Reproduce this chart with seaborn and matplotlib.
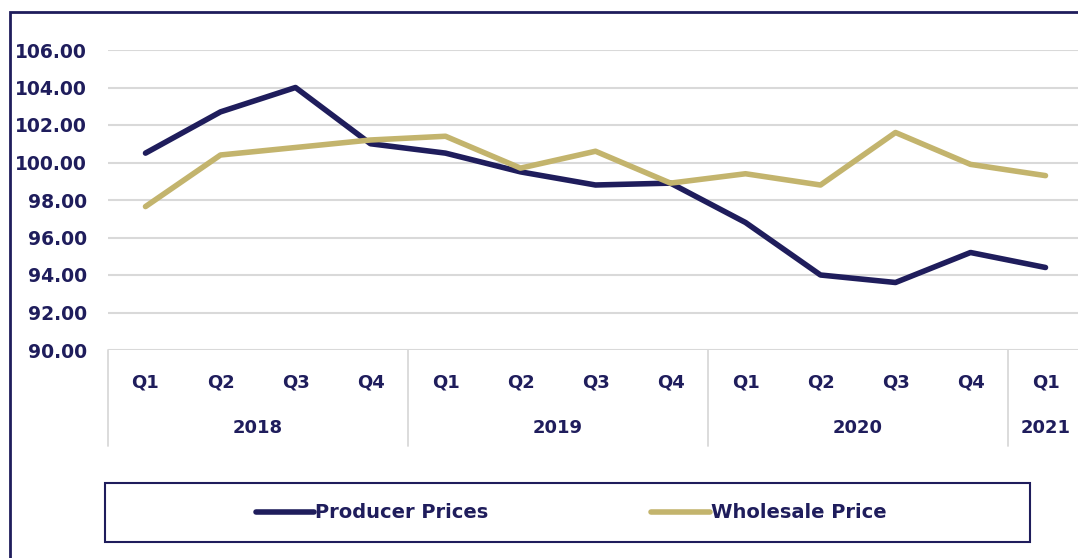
import matplotlib
matplotlib.use("Agg")
import matplotlib.pyplot as plt
from matplotlib.patches import Rectangle
import numpy as np
import pandas as pd
import seaborn as sns

# Data
quarters = ["Q1", "Q2", "Q3", "Q4", "Q1", "Q2", "Q3", "Q4", "Q1", "Q2", "Q3", "Q4", "Q1"]
years = ["2018", "2019", "2020", "2021"]
year_spans = [4, 4, 4, 1]
producer = [100.5, 102.7, 104.0, 101.0, 100.5, 99.5, 98.8, 98.9, 96.8, 94.0, 93.6, 95.2, 94.4]
wholesale = [97.65, 100.4, 100.8, 101.2, 101.4, 99.7, 100.6, 98.9, 99.4, 98.8, 101.6, 99.9, 99.3]

navy = "#1f1d5c"
gold = "#c3b46d"

sns.set_theme(style="white")
plt.rcParams["font.family"] = ["DejaVu Sans"]

idx = np.arange(len(quarters))
df = pd.DataFrame({
    "pos": np.concatenate([idx, idx]),
    "value": producer + wholesale,
    "series": ["Producer Prices"] * len(idx) + ["Wholesale Price"] * len(idx),
})

fig = plt.figure(figsize=(10.78, 5.58), dpi=100)
W, H = 1078, 558
ax = fig.add_axes([108 / W, 1 - 350 / H, 975 / W, 300 / H])

sns.lineplot(data=df, x="pos", y="value", hue="series", sort=False,
             palette={"Producer Prices": navy, "Wholesale Price": gold},
             linewidth=4, ax=ax, legend=True)

ax.set_xlim(-0.5, len(idx) - 0.5)
ax.set_ylim(90, 106)
ax.set_yticks(np.arange(90, 107, 2))
ax.set_yticklabels([f"{v:.2f}" for v in np.arange(90, 107, 2)],
                   fontsize=13.5, fontweight="bold", color=navy)
ax.tick_params(axis="y", length=0, pad=15)
ax.yaxis.grid(True, color="#d9d9d9", linewidth=1.5)
ax.set_axisbelow(True)
for s in ax.spines.values():
    s.set_visible(False)

ax.set_xticks(idx)
ax.set_xticklabels(quarters, fontsize=13, fontweight="bold", color=navy)
ax.tick_params(axis="x", length=0, pad=17)
ax.set_xlabel("")
ax.set_ylabel("")

# year group labels and dividers
start = 0
for yr, span in zip(years, year_spans):
    centre = start + (span - 1) / 2
    ax.text(centre, -0.26, yr, transform=ax.get_xaxis_transform(),
            ha="center", va="center", fontsize=13, fontweight="bold", color=navy)
    ax.plot([start - 0.5, start - 0.5], [0, -0.32], transform=ax.get_xaxis_transform(),
            color="#d9d9d9", lw=1.3, clip_on=False)
    start += span

# legend
handles, labels = ax.get_legend_handles_labels()
ax.get_legend().remove()
fig.legend(handles, labels, loc="center", bbox_to_anchor=(571 / W, 1 - 513 / H),
           ncol=2, frameon=False, handlelength=3.0, handletextpad=0.05, columnspacing=8.4,
           prop={"size": 14, "weight": "bold"}, labelcolor=navy)
fig.patches.append(Rectangle((105 / W, 1 - 542 / H), 925 / W, 59 / H, transform=fig.transFigure,
                             fill=False, edgecolor=navy, lw=1.5))

# outer frame
fig.patches.append(Rectangle((10 / W, -0.1), 1.2, 1 - 12 / H + 0.1, transform=fig.transFigure,
                             fill=False, edgecolor=navy, lw=2))

fig.savefig("out.png", dpi=100)
